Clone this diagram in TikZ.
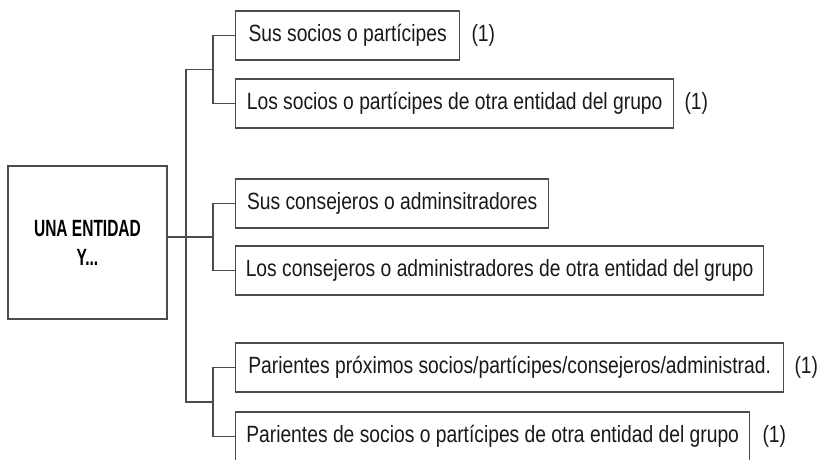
\documentclass[tikz,border=0pt]{standalone}
\usepackage{fontspec}
\setmainfont{Liberation Sans}[FakeStretch=0.82]
\newfontfamily\headfont{Liberation Sans}[FakeStretch=0.66]
\usepackage{tikz}
\usetikzlibrary{positioning}

\tikzset{
  entry/.style={draw=black!70, line width=1.3pt, anchor=west,
    minimum height=49pt, inner sep=0pt, text=black!90,
    font=\fontsize{23.5}{27}\selectfont},
  note/.style={anchor=west, inner sep=0pt, text=black!90,
    font=\fontsize{23.5}{27}\selectfont},
  link/.style={draw=black!70, line width=1.3pt}
}

\begin{document}
\begin{tikzpicture}[x=1pt,y=-1pt]
  \useasboundingbox (0,0) rectangle (822,459);

  \node (entidad) at (87.5,242.5) [draw=black!70, line width=1.3pt,
    minimum width=159pt, minimum height=153pt, inner sep=0pt, align=center,
    font=\headfont\bfseries\fontsize{23.5}{29}\selectfont]
    {UNA ENTIDAD\\Y...};

  \node (socios)     at (235,35.5)  [entry, minimum width=224pt] {Sus socios o partícipes};
  \node (sociosgr)   at (235,103.5) [entry, minimum width=438pt] {Los socios o partícipes de otra entidad del grupo};
  \node (consej)     at (235,203.5) [entry, minimum width=313pt] {Sus consejeros o adminsitradores};
  \node (consejgr)   at (235,270.5) [entry, minimum width=528pt] {Los consejeros o administradores de otra entidad del grupo};
  \node (parientes)  at (235,367.5) [entry, minimum width=548pt] {Parientes próximos socios/partícipes/consejeros/administrad.};
  \node (parientgr)  at (235,436.5) [entry, minimum width=514pt] {Parientes de socios o partícipes de otra entidad del grupo};

  \node (n1) [note, right=11pt of socios]    {(1)};
  \node (n2) [note, right=10pt of sociosgr]  {(1)};
  \node (n3) [note, right=10pt of parientes] {(1)};
  \node (n4) [note, right=12pt of parientgr] {(1)};

  % branch points
  \coordinate (j1) at (213,69.5);
  \coordinate (j2) at (213,237);
  \coordinate (j3) at (213,402);
  \coordinate (t1) at (186,69.5);
  \coordinate (t3) at (186,402);

  \draw[link] (socios.west)    -| (j1) |- (sociosgr.west);
  \draw[link] (consej.west)    -| (j2) |- (consejgr.west);
  \draw[link] (parientes.west) -| (j3) |- (parientgr.west);
  \draw[link] (j1) -- (t1) -- (t3) -- (j3);
  \draw[link] (entidad.east |- j2) -- (j2);
\end{tikzpicture}
\end{document}
